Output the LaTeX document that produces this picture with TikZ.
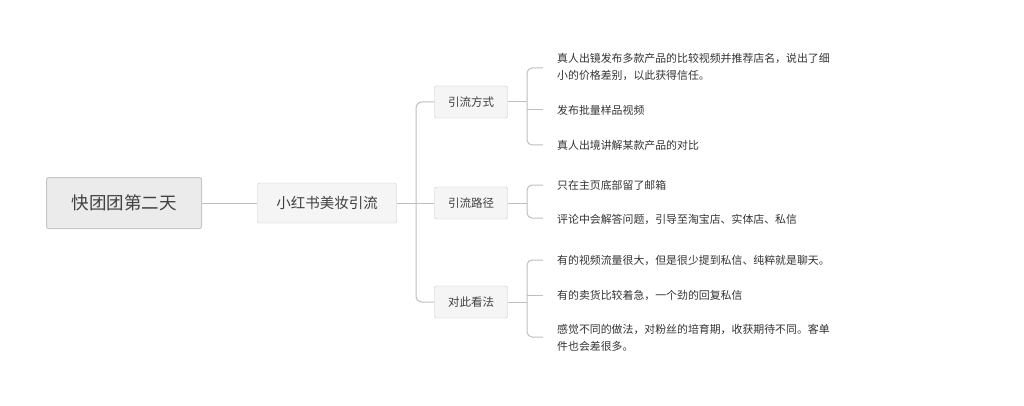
\documentclass[tikz,border=0pt]{standalone}
\usepackage{fontspec}
\setmainfont{Noto Sans CJK SC}
\begin{document}
\begin{tikzpicture}[x=1pt,y=-1pt,
  ln/.style={draw=black!25,line width=1pt},
  box/.style={draw=black!22,rounded corners=2pt,fill=black!4,text=black!75,inner sep=0pt},
  leaf/.style={anchor=west,text=black!80,font=\fontsize{10.9}{17}\selectfont,align=left,inner sep=0pt}]
\useasboundingbox (0,0) rectangle (1024,406);
\node[box,fill=black!8,line width=1pt,minimum width=155,minimum height=51,font=\fontsize{17.5}{20}\selectfont] (r) at (124,203) {快团团第二天};
\node[box,minimum width=139,minimum height=40,font=\fontsize{14.5}{17}\selectfont] (m) at (327,203) {小红书美妆引流};
\foreach \n/\y/\t in {a/102/引流方式,b/203/引流路径,c/302/对此看法}
  \node[box,minimum width=73,minimum height=32,font=\fontsize{11.5}{13}\selectfont] (\n) at (471,\y) {\t};
\draw[ln] (r) -- (m);
\coordinate (t) at (416,203);
\draw[ln] (m.east) -- (b.west);
\draw[ln,rounded corners=6pt] (a.west) -| (t) |- (c.west);
% leaves
\node[leaf] (a1) at (557,67) {真人出镜发布多款产品的比较视频并推荐店名，说出了细\\小的价格差别，以此获得信任。};
\node[leaf] (a2) at (557,110) {发布批量样品视频};
\node[leaf] (a3) at (557,145) {真人出境讲解某款产品的对比};
\node[leaf] (b1) at (557,185) {只在主页底部留了邮箱};
\node[leaf] (b2) at (557,219) {评论中会解答问题，引导至淘宝店、实体店、私信};
\node[leaf] (c1) at (557,260) {有的视频流量很大，但是很少提到私信、纯粹就是聊天。};
\node[leaf] (c2) at (557,295) {有的卖货比较着急，一个劲的回复私信};
\node[leaf] (c3) at (557,338) {感觉不同的做法，对粉丝的培育期，收获期待不同。客单\\件也会差很多。};
\foreach \p/\top/\bot/\mids in {a/68/145/{110},b/185/218/{},c/260/337/{295}}{
  \coordinate (\p m) at (527,0);
  \draw[ln] (\p.east) -- (\p.east -| \p m);
  \draw[ln,rounded corners=5pt] (543,\top) -- (527,\top) -- (527,\bot) -- (543,\bot);
  \foreach \q in \mids {\draw[ln] (527,\q) -- (543,\q);}
}
\end{tikzpicture}
\end{document}
